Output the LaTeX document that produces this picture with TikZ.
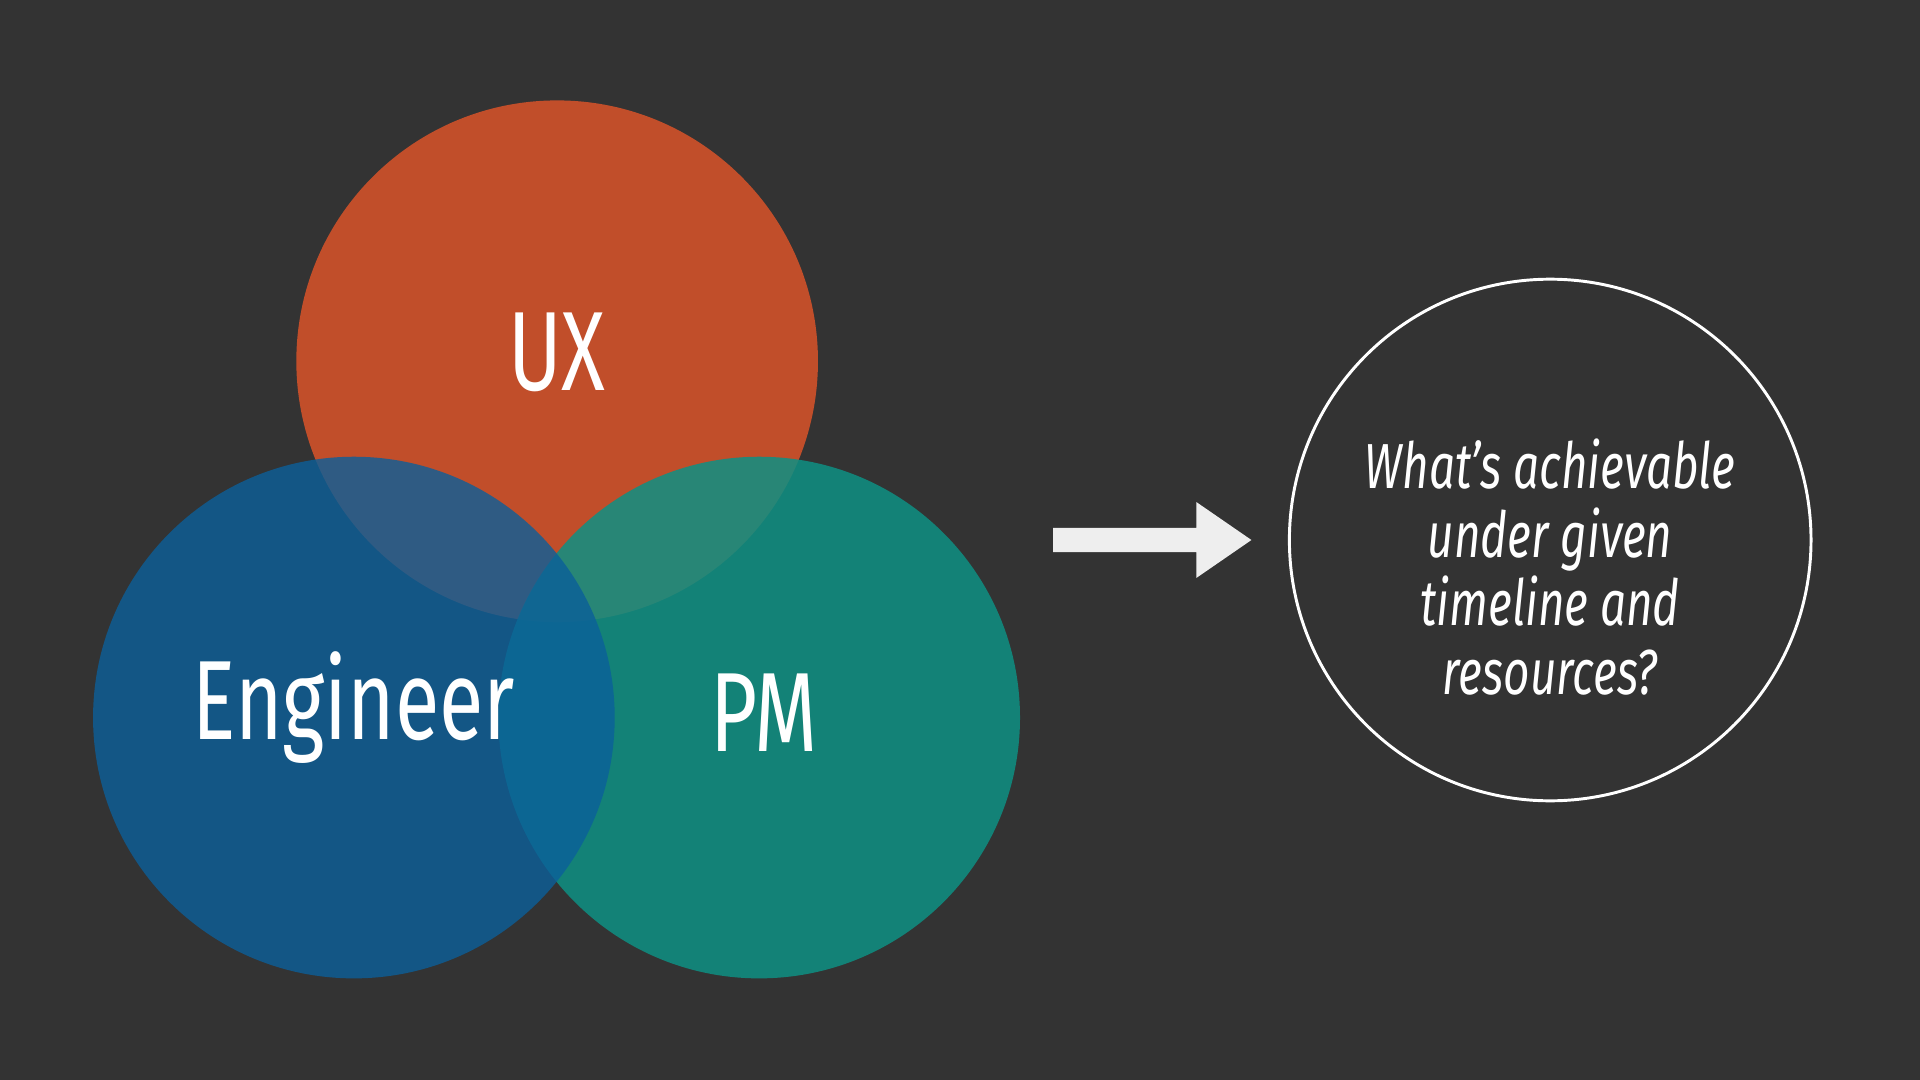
\documentclass[tikz,border=0pt]{standalone}
\usepackage{fontspec}
\setmainfont{Fira Sans}[FakeStretch=0.72]
\definecolor{bgdark}{HTML}{333333}
\definecolor{uxorange}{HTML}{C9502A}
\definecolor{engblue}{HTML}{0B5F9A}
\definecolor{pmteal}{HTML}{0E9084}
\tikzset{every picture/.style={line width=0.75pt}}
\begin{document}
\begin{tikzpicture}[x=0.5pt,y=0.5pt,yscale=-1,xscale=1]
    %background
    \fill [bgdark] (0,0) rectangle (1568,882);
    
    %Venn circles
    \fill [uxorange,fill opacity=0.95] (455,295) circle [radius=213];
    \fill [pmteal,fill opacity=0.85] (620,586) circle [radius=213];
    \fill [engblue,fill opacity=0.8] (289,586) circle [radius=213];
    
    %Arrow
    \fill [color={rgb, 255:red, 238; green, 238; blue, 238 }] (860,431) -- (977,431) -- (977,410) -- (1022,441) -- (977,472) -- (977,451) -- (860,451) -- cycle;
    
    %Answer circle
    \draw [white,line width=1.2pt] (1266,441) circle [radius=213];
    
    % Text Node
    \node (ux) at (455,288) [white,font=\fontsize{46}{50}\selectfont] {UX};
    % Text Node
    \node (eng) at (289,578) [white,font=\fontsize{46}{50}\selectfont] {Engineer};
    % Text Node
    \node (pm) at (624,582) [white,font=\fontsize{46}{50}\selectfont] {PM};
    % Text Node
    \node (q) at (1266,463) [white,align=center,font=\fontsize{26}{28}\selectfont\itshape\fontseries{l}\selectfont] {What’s achievable\\under given\\timeline and\\resources?};
\end{tikzpicture}
\end{document}
